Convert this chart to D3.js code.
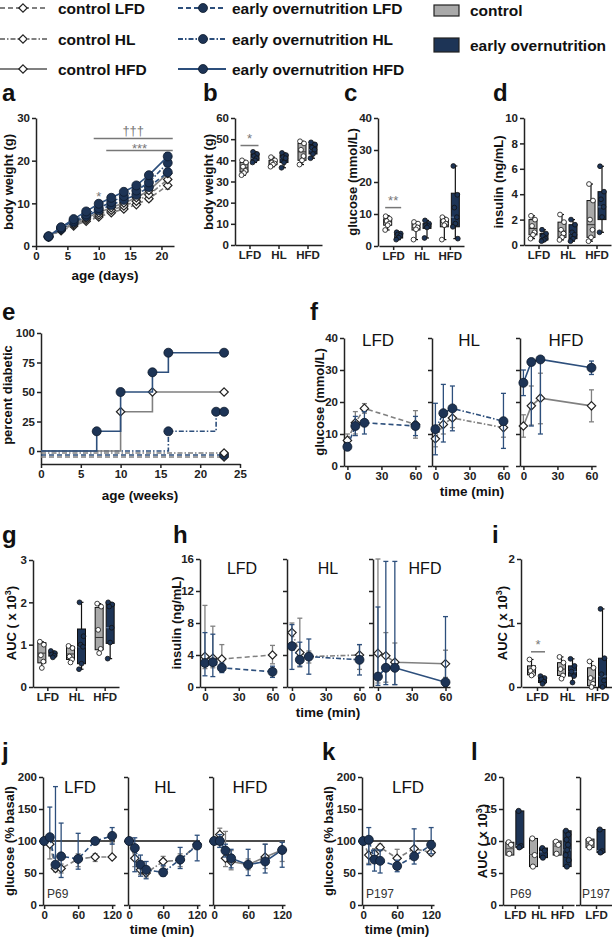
<!DOCTYPE html>
<html><head><meta charset="utf-8">
<script src="https://cdn.jsdelivr.net/npm/d3@7"></script>
<style>
body{margin:0;background:#fff;}
svg{display:block;font-family:"Liberation Sans",Arial,sans-serif;}
</style></head><body>
<script>
// ---------------- DATA ----------------
const diets = ["LFD","HL","HFD"];
// panel a: body weight by age (days)
const aDays = [2,4,6,8,10,12,14,16,18,21];
const aCtrlLFD = [2.1,3.6,4.7,5.8,6.8,7.8,8.7,9.7,11.1,14.2];
const aCtrlHL  = [2.1,3.8,5.0,6.2,7.3,8.4,9.4,10.5,12.0,15.6];
const aCtrlHFD = [2.2,3.9,5.3,6.6,7.8,9.0,10.1,11.3,13.0,17.0];
const aEoLFD   = [2.2,4.0,5.6,7.0,8.4,9.6,10.8,12.0,13.8,17.3];
const aEoHL    = [2.2,4.2,5.9,7.4,8.9,10.3,11.7,13.0,14.9,19.5];
const aEoHFD   = [2.3,4.4,6.3,8.1,9.9,11.3,12.7,14.2,16.6,21.0];
const aErr     = [0.1,0.2,0.3,0.3,0.4,0.4,0.5,0.5,0.6,0.9];
const aTicksX = [0,5,10,15,20], aTicksY = [0,10,20,30];
// box stats [min,q1,median,q3,max]
const bCtrl = [[33,34.5,36.5,39,40],[37,38,38.8,40,41.5],[38,40,44,48,49]];
const bEo   = [[39,40,41,43,44],[36.5,39,41,42.5,43.5],[41,43,45,47.5,48.5]];
const bCtrlPts = [[40,39,37,35,34,33],[41.5,40,39,38.5,38,37],[49,48,45,42,40,38]];
const bEoPts   = [[44,43,42,41,40,39],[43.5,42.5,41.5,41,39,36.5],[48.5,47.5,46,45,43,41]];
const cCtrl = [[5,6.5,7.5,8.5,9.5],[2,5,6,7,7.5],[2,6,7.5,8.2,9]];
const cEo   = [[2,2.5,3.2,3.8,4.3],[2.5,5.5,6.3,7,8],[2.3,6,9,16.5,25]];
const cCtrlPts = [[9.3,8.5,7.8,7,6.5,5],[7.5,7,6.2,5.8,5.2,2],[9,8.2,7.8,7,6.5,2]];
const cEoPts   = [[4.3,3.9,3.6,3.2,2.6,2],[8,7,6.5,6.2,5.8,2.5],[25,16,12,9,7,6,2.3]];
const dCtrl = [[0.5,0.8,1.3,2.0,2.3],[0.4,0.6,1.1,1.8,2.4],[0.3,0.6,1.6,3.5,4.8]];
const dEo   = [[0.3,0.4,0.6,0.9,1.2],[0.3,0.5,0.9,1.6,2.0],[1.0,2.0,3.0,4.2,6.2]];
const dCtrlPts = [[2.3,2.0,1.5,1.0,0.8,0.5],[2.4,1.8,1.2,0.9,0.6,0.4],[4.8,3.5,2.0,1.2,0.6,0.3]];
const dEoPts   = [[1.2,0.9,0.7,0.5,0.4,0.3],[2.0,1.6,1.0,0.8,0.5,0.3],[6.2,4.2,3.6,3.0,2.2,1.0]];
// panel e: percent diabetic
const eEoHFDWk = [0,7,10,14,16,23], eEoHFDPct = [0,16.7,50,66.7,83.3,83.3];
const eCtrlHFDWk = [0,10,14,23], eCtrlHFDPct = [0,33.3,50,50];
const eEoHLWk = [0,16,22,23], eEoHLPct = [0,16.7,33.3,33.3];
const eZeroWk = [0,23], eZeroPct = [0,0];
const eTicksX = [0,5,10,15,20,25], eTicksY = [0,25,50,75,100];
// panel f: glucose tolerance (mmol/L): mean, upper, lower
const fTimes = [0,7,15,60];
const fCtrlLFD = [8,13.5,18,13],      fCtrlLFDHi = [10,17,19.5,17.3],  fCtrlLFDLo = [6,10,16.5,8.7];
const fEoLFD   = [6,12.5,13.5,12.5],  fEoLFDHi   = [7,15.5,17,15.5],   fEoLFDLo   = [5,9.5,10,9.5];
const fCtrlHL  = [8.5,13,15,12],      fCtrlHLHi  = [11,16,18,15],      fCtrlHLLo  = [6,10,12,9];
const fEoHL    = [11.5,16.5,18,14],   fEoHLHi    = [19.6,25.5,25,22.7],fEoHLLo    = [3.5,7.5,11,5.5];
const fCtrlHFD = [12.5,18.8,21.2,18.8], fCtrlHFDHi = [16,25,29,23.8],  fCtrlHFDLo = [9,12.8,13.2,13.8];
const fEoHFD   = [26,32.5,33.3,30.7],   fEoHFDHi   = [30,32.5,33.3,32.8], fEoHFDLo = [22,12.5,10,28.6];
// panel g: AUC glucose
const gCtrl = [[0.45,0.57,0.8,1.05,1.07],[0.58,0.65,0.78,0.95,0.97],[0.78,0.88,1.17,1.88,1.97]];
const gEo   = [[0.7,0.73,0.77,0.82,0.85],[0.42,0.55,0.95,1.37,2.0],[0.67,1.03,1.4,1.97,2.0]];
const gCtrlPts = [[1.07,1.0,0.75,0.6,0.45],[0.97,0.92,0.72,0.65,0.58],[1.97,1.9,1.35,0.9,0.8]];
const gEoPts   = [[0.85,0.8,0.77,0.74,0.7],[2.0,1.2,1.0,0.95,0.55,0.42],[2.0,1.95,1.9,1.4,1.05,0.67]];
// panel h: insulin (ng/mL)
const hTimes = [0,7,15,60];
const hCtrlLFD = [3.8,3.6,3.5,4.0], hCtrlLFDHi = [10.2,7.6,5.3,5.2], hCtrlLFDLo = [2.3,2.4,2.5,2.9];
const hEoLFD   = [3.0,3.1,2.4,1.9], hEoLFDHi   = [6.8,6.6,3.0,2.6], hEoLFDLo   = [1.4,1.3,1.8,1.2];
const hCtrlHL  = [6.8,4.3,3.8,4.0], hCtrlHLHi  = [8.0,8.6,4.5,5.3], hCtrlHLLo  = [5.5,2.5,3.0,2.2];
const hEoHL    = [5.1,3.4,3.8,3.4], hEoHLHi    = [7.8,5.6,6.0,5.3], hEoHLLo    = [2.2,2.6,1.6,1.5];
const hCtrlHFD = [4.2,3.9,3.1,2.9], hCtrlHFDHi = [16,6.8,5.5,4.6],  hCtrlHFDLo = [0.5,0.6,0.3,1.2];
const hEoHFD   = [1.3,2.4,2.4,0.6], hEoHFDHi   = [10,15.7,15.7,8.8],hEoHFDLo   = [0.2,0.3,0.3,0.1];
// panel i: AUC insulin
const iCtrl = [[0.18,0.19,0.23,0.33,0.43],[0.13,0.18,0.28,0.38,0.47],[0,0.02,0.14,0.3,0.4]];
const iEo   = [[0.05,0.07,0.12,0.15,0.17],[0.07,0.17,0.24,0.33,0.44],[0,0,0.17,0.45,1.22]];
const iCtrlPts = [[0.43,0.3,0.25,0.2,0.18],[0.47,0.38,0.28,0.18,0.13],[0.4,0.3,0.14,0.05,0]];
const iEoPts   = [[0.17,0.14,0.12,0.08,0.05],[0.44,0.33,0.24,0.17,0.07],[1.22,0.45,0.2,0.1,0]];
// panel j: insulin tolerance P69 (% basal)
const jTimes = [0,10,20,30,60,90,120];
const jCtrlLFD = [100,95,57,57,72,75,75], jCtrlLFDHi=[100,100,66,64,80,80,97], jCtrlLFDLo=[100,72,52,50,60,68,75];
const jEoLFD   = [100,106,63,76,72,100,108], jEoLFDHi=[100,153,185,128,112,100,121], jEoLFDLo=[100,106,63,43,56,100,95];
const jCtrlHL  = [100,73,55,50,68,70,95], jCtrlHLHi=[100,85,62,58,76,80,100], jCtrlHLLo=[100,60,48,44,60,60,90];
const jEoHL    = [100,89,63,55,51,71,93], jEoHLHi=[100,105,78,68,62,90,109], jEoHLLo=[100,52,45,41,45,57,69];
const jCtrlHFD = [100,110,73,68,63,75,86], jCtrlHFDHi=[100,120,115,85,72,95,98], jCtrlHFDLo=[100,90,60,55,55,57,68];
const jEoHFD   = [100,100,85,73,63,68,86], jEoHFDHi=[100,110,95,87,87,95,98], jEoHFDLo=[100,90,75,58,46,50,59];
// panel k: insulin tolerance P197
const kCtrlLFD = [100,78,80,90,73,88,82], kCtrlLFDHi=[100,95,88,95,87,100,90], kCtrlLFDLo=[100,65,72,85,60,75,78];
const kEoLFD   = [100,102,71,69,61,76,94], kEoLFDHi=[100,121,86,86,70,119,121], kEoLFDLo=[100,63,53,50,52,64,80];
// panel l: AUC floating bars [min, median, max]
const lCtrl = [[7.8,8.8,9.8],[6.0,7.9,10.4],[7.8,9.2,10.0]];
const lEo   = [[9.0,9.3,14.7],[7.4,8.3,8.9],[6.0,8.6,11.6]];
const lCtrlPts = [[9.8,9.4,8.0],[10.4,7.8,6.0],[9.9,9.4,8.0]];
const lEoPts   = [[14.7,9.2,9.0],[8.9,8.5,7.4],[11.6,11,10.2,9.4,8.6,7.8,7,6]];
const l197Ctrl = [9.0,9.6,10.3], l197Eo = [8.2,8.5,11.8];
const l197CtrlPts = [10.2,9.7,9.0], l197EoPts = [11.8,8.4,8.2];

// ---------------- STYLE / HELPERS ----------------
const svg = d3.select('body').append('svg').attr('width',612).attr('height',937);
const DARK='#1d3456', DARKL='#2d4f7c', GREY='#808080', GREYF='#a9a9a9', AX='#222';
const DASH = {LFD:'5,3', HL:'5,2,1.5,2', HFD:null};
const FONT = '"Liberation Sans", Arial, sans-serif';
const fmtInt = d3.format('d');

function styleAxis(g){
  g.select('.domain').attr('stroke',AX).attr('stroke-width',1.5);
  g.selectAll('.tick line').attr('stroke',AX).attr('stroke-width',1.5);
  g.selectAll('.tick text').attr('fill','#222').attr('font-size',11.5).attr('font-weight','bold').attr('font-family',FONT);
}
function yAxis(y, x0, ticks, labels=true){
  const ax = d3.axisLeft(y).tickValues(ticks).tickSize(4).tickSizeOuter(0).tickPadding(2).tickFormat(labels?fmtInt:'');
  const g = svg.append('g').attr('transform',`translate(${x0},0)`).call(ax);
  styleAxis(g); return g;
}
function xAxis(x, y0, ticks, fmt){
  const ax = d3.axisBottom(x).tickValues(ticks).tickSize(4).tickSizeOuter(0).tickPadding(2).tickFormat(fmt||fmtInt);
  const g = svg.append('g').attr('transform',`translate(0,${y0})`).call(ax);
  styleAxis(g); return g;
}
function txt(x,y,s,o={}){
  return svg.append('text').attr('x',x).attr('y',y).text(s)
    .attr('font-size',o.size||13).attr('font-weight',o.bold===false?'normal':'bold')
    .attr('text-anchor',o.anchor||'start').attr('fill',o.fill||'#111').attr('font-family',FONT);
}
function vtitle(x,cy,s){
  return svg.append('text').attr('transform',`translate(${x},${cy}) rotate(-90)`)
    .attr('text-anchor','middle').attr('font-size',13).attr('font-weight','bold').attr('fill','#111')
    .attr('font-family',FONT).text(s);
}
function aucTitle(x,cy){
  const t = svg.append('text').attr('transform',`translate(${x},${cy}) rotate(-90)`)
    .attr('text-anchor','middle').attr('font-size',13).attr('font-weight','bold').attr('fill','#111').attr('font-family',FONT);
  t.append('tspan').text('AUC ( x 10');
  t.append('tspan').text('3').attr('font-size',9).attr('dy',-5);
  t.append('tspan').text(')').attr('dy',5);
}
function letter(x,y,s){ return txt(x,y,s,{size:24}); }
function marker(g,x,y,ctrl){
  if(ctrl) g.append('path').attr('d',`M${x},${y-4.2}L${x+4.2},${y}L${x},${y+4.2}L${x-4.2},${y}Z`)
      .attr('fill','#fff').attr('stroke','#222').attr('stroke-width',1.2);
  else g.append('circle').attr('cx',x).attr('cy',y).attr('r',4.5).attr('fill',DARK).attr('stroke','#0e1a2c').attr('stroke-width',0.8);
}
function series(x,y,times,vals,ctrl,dash,hi,lo){
  const col = ctrl?GREY:DARKL;
  const g = svg.append('g');
  const [y0] = y.domain();
  times.forEach((t,i)=>{
    const h=hi[i], l=Math.max(lo[i],y0);
    if(Math.abs(h-l)<0.001) return;
    const xx=x(t);
    g.append('line').attr('x1',xx).attr('x2',xx).attr('y1',y(h)).attr('y2',y(l)).attr('stroke',col).attr('stroke-width',1.3);
    [h,l].forEach(v=>{ if(Math.abs(v-vals[i])>0.001) g.append('line').attr('x1',xx-2.5).attr('x2',xx+2.5).attr('y1',y(v)).attr('y2',y(v)).attr('stroke',col).attr('stroke-width',1.3); });
  });
  g.append('path').datum(times.map((t,i)=>[t,vals[i]]))
    .attr('d',d3.line().x(d=>x(d[0])).y(d=>y(d[1])))
    .attr('fill','none').attr('stroke',col).attr('stroke-width',1.6).attr('stroke-dasharray',dash);
  times.forEach((t,i)=>marker(g,x(t),y(vals[i]),ctrl));
}
function seriesErr(x,y,times,vals,err,ctrl,dash){
  series(x,y,times,vals,ctrl,dash,vals.map((v,i)=>v+err[i]),vals.map((v,i)=>v-err[i]));
}
const JIT = [-2,2,-1,1.5,0,-2.5,2.5,-0.5];
function box(x,y,cx,st,pts,ctrl,w=8){
  const g = svg.append('g');
  g.append('line').attr('x1',cx).attr('x2',cx).attr('y1',y(st[0])).attr('y2',y(st[4])).attr('stroke','#111').attr('stroke-width',1.2);
  [st[0],st[4]].forEach(v=>g.append('line').attr('x1',cx-2).attr('x2',cx+2).attr('y1',y(v)).attr('y2',y(v)).attr('stroke','#111').attr('stroke-width',1.2));
  g.append('rect').attr('x',cx-w/2).attr('y',y(st[3])).attr('width',w).attr('height',Math.max(0.5,y(st[1])-y(st[3])))
    .attr('fill',ctrl?GREYF:DARK).attr('stroke','#111').attr('stroke-width',1);
  g.append('line').attr('x1',cx-w/2).attr('x2',cx+w/2).attr('y1',y(st[2])).attr('y2',y(st[2])).attr('stroke',ctrl?'#333':'#6d86a8').attr('stroke-width',1);
  pts.forEach((v,i)=>g.append('circle').attr('cx',cx+JIT[i%JIT.length]).attr('cy',y(v)).attr('r',2.4)
    .attr('fill',ctrl?'#fff':DARK).attr('stroke','#111').attr('stroke-width',0.8));
}
function bar(x,y,cx,st,pts,ctrl,w=8){
  const g = svg.append('g');
  g.append('rect').attr('x',cx-w/2).attr('y',y(st[2])).attr('width',w).attr('height',y(st[0])-y(st[2]))
    .attr('fill',ctrl?GREYF:DARK).attr('stroke','#111').attr('stroke-width',1);
  g.append('line').attr('x1',cx-w/2).attr('x2',cx+w/2).attr('y1',y(st[1])).attr('y2',y(st[1])).attr('stroke',ctrl?'#555':'#6d86a8').attr('stroke-width',1);
  pts.forEach((v,i)=>g.append('circle').attr('cx',cx+JIT[i%JIT.length]*0.6).attr('cy',y(v)).attr('r',2.6)
    .attr('fill',ctrl?'#fff':DARK).attr('stroke','#111').attr('stroke-width',0.8));
}
function boxPanel(L,R,y,ctrlS,eoS,ctrlP,eoP,cats=diets){
  const x = d3.scaleLinear().domain([-0.5,cats.length-0.5]).range([L,R]);
  xAxis(x, y.range()[0], d3.range(cats.length), i=>cats[i]);
  cats.forEach((c,i)=>{ box(x,y,x(i)-5.5,ctrlS[i],ctrlP[i],true); box(x,y,x(i)+5.5,eoS[i],eoP[i],false); });
  return x;
}
function sig(x1,x2,yl,ytxt,s){
  svg.append('line').attr('x1',x1).attr('x2',x2).attr('y1',yl).attr('y2',yl).attr('stroke','#777').attr('stroke-width',1.5);
  txt((x1+x2)/2,ytxt,s,{size:13,bold:false,anchor:'middle',fill:'#777'});
}

// ---------------- LEGEND ----------------
const legRows = [8,39,69];
const legKeys = [["control LFD","early overnutrition LFD",DASH.LFD],["control HL","early overnutrition HL",DASH.HL],["control HFD","early overnutrition HFD",DASH.HFD]];
legKeys.forEach((k,i)=>{
  const yy = legRows[i], g = svg.append('g');
  g.append('line').attr('x1',0).attr('x2',47).attr('y1',yy).attr('y2',yy).attr('stroke',GREY).attr('stroke-width',2).attr('stroke-dasharray',k[2]);
  marker(g,23,yy,true);
  txt(58,yy+5.5,k[0],{size:15.5});
  g.append('line').attr('x1',178).attr('x2',226).attr('y1',yy).attr('y2',yy).attr('stroke',DARKL).attr('stroke-width',2).attr('stroke-dasharray',k[2]);
  marker(g,203,yy,false);
  txt(232,yy+5.5,k[1],{size:15.5});
});
svg.append('rect').attr('x',434).attr('y',5).attr('width',25).attr('height',11).attr('fill',GREYF).attr('stroke','#222').attr('stroke-width',1.2);
txt(470,15.5,'control',{size:15.5});
svg.append('rect').attr('x',434).attr('y',38).attr('width',25).attr('height',14).attr('fill',DARK).attr('stroke','#222').attr('stroke-width',1.2);
txt(470,51,'early overnutrition',{size:15.5});

// ---------------- PANEL a ----------------
letter(2,101,'a');
{
  const x = d3.scaleLinear().domain([0,22]).range([36,174]);
  const y = d3.scaleLinear().domain([0,30]).range([246,118]);
  yAxis(y,36,aTicksY); xAxis(x,246,aTicksX);
  seriesErr(x,y,aDays,aCtrlLFD,aErr,true,DASH.LFD);
  seriesErr(x,y,aDays,aCtrlHL,aErr,true,DASH.HL);
  seriesErr(x,y,aDays,aCtrlHFD,aErr,true,DASH.HFD);
  seriesErr(x,y,aDays,aEoLFD,aErr,false,DASH.LFD);
  seriesErr(x,y,aDays,aEoHL,aErr,false,DASH.HL);
  seriesErr(x,y,aDays,aEoHFD,aErr,false,DASH.HFD);
  sig(x(9.2),x(21.8),y(25.2),y(26.5)+2,'†††');
  sig(x(11.2),x(21.8),y(22.4),y(22.4)+3,'***');
  txt(x(10),y(11.5)+4,'*',{size:13,bold:false,anchor:'middle',fill:'#777'});
  vtitle(13,182,'body weight (g)');
  txt(105,280,'age (days)',{anchor:'middle',size:13.5});
}
// ---------------- PANEL b ----------------
letter(203,101,'b');
{
  const y = d3.scaleLinear().domain([0,60]).range([245,118]);
  yAxis(y,235,[0,10,20,30,40,50,60]);
  const x = boxPanel(235,322,y,bCtrl,bEo,bCtrlPts,bEoPts);
  sig(x(0)-9,x(0)+9,y(47),y(47)-3,'*');
  vtitle(213,182,'body weight  (g)');
}
// ---------------- PANEL c ----------------
letter(344,101,'c');
{
  const y = d3.scaleLinear().domain([0,40]).range([246,118]);
  yAxis(y,378,[0,10,20,30,40]);
  const x = boxPanel(379,464,y,cCtrl,cEo,cCtrlPts,cEoPts);
  sig(x(0)-8,x(0)+8,y(12),y(12)-3,'**');
  vtitle(357,182,'glucose (mmol/L)');
}
// ---------------- PANEL d ----------------
letter(493,101,'d');
{
  const y = d3.scaleLinear().domain([0,10]).range([245,118]);
  yAxis(y,524,[0,2,4,6,8,10]);
  boxPanel(524,611,y,dCtrl,dEo,dCtrlPts,dEoPts);
  vtitle(503,182,'insulin (ng/mL)');
}
// ---------------- PANEL e ----------------
letter(2,320,'e');
{
  const x = d3.scaleLinear().domain([0,25]).range([41,240]);
  const y = d3.scaleLinear().domain([-11,100]).range([464,333]);
  yAxis(y,41,eTicksY); xAxis(x,464,eTicksX);
  const step = d3.line().curve(d3.curveStepAfter).x(d=>x(d[0])).y(d=>d[1]);
  function eLine(wk,pct,ctrl,dash,off){
    const g=svg.append('g');
    g.append('path').datum(wk.map((w,i)=>[w,y(pct[i])+off])).attr('d',step)
      .attr('fill','none').attr('stroke',ctrl?GREY:DARKL).attr('stroke-width',1.6).attr('stroke-dasharray',dash);
    wk.forEach((w,i)=>{ if(i>0) marker(g,x(w),y(pct[i])+off,ctrl); });
  }
  eLine(eZeroWk,eZeroPct,true,DASH.LFD,6);
  eLine(eZeroWk,eZeroPct,false,DASH.LFD,4);
  eLine(eZeroWk,eZeroPct,true,DASH.HL,2);
  eLine(eEoHLWk,eEoHLPct,false,DASH.HL,0);
  eLine(eCtrlHFDWk,eCtrlHFDPct,true,DASH.HFD,0);
  eLine(eEoHFDWk,eEoHFDPct,false,DASH.HFD,0);
  vtitle(12,395,'percent diabetic');
  txt(140,500,'age (weeks)',{anchor:'middle',size:13.5});
}
// ---------------- PANEL f ----------------
letter(310,320,'f');
{
  const y = d3.scaleLinear().domain([0,40]).range([466,338]);
  const lefts = [344,432,520];
  const data = [[fCtrlLFD,fCtrlLFDHi,fCtrlLFDLo,fEoLFD,fEoLFDHi,fEoLFDLo],[fCtrlHL,fCtrlHLHi,fCtrlHLLo,fEoHL,fEoHLHi,fEoHLLo],[fCtrlHFD,fCtrlHFDHi,fCtrlHFDLo,fEoHFD,fEoHFDHi,fEoHFDLo]];
  diets.forEach((dt,i)=>{
    const L = lefts[i];
    const x = d3.scaleLinear().domain([-3,64]).range([L,L+76]);
    yAxis(y,L,[0,10,20,30,40],i===0); xAxis(x,466,[0,30,60]);
    series(x,y,fTimes,data[i][0],true,DASH[dt],data[i][1],data[i][2]);
    series(x,y,fTimes,data[i][3],false,DASH[dt],data[i][4],data[i][5]);
    txt(L+[34,37,46][i],346,dt,{size:17,bold:false,anchor:'middle'});
  });
  vtitle(324,402,'glucose (mmol/L)');
  txt(472,496,'time (min)',{anchor:'middle',size:13.5});
}
// ---------------- PANEL g ----------------
letter(2,543,'g');
{
  const y = d3.scaleLinear().domain([0,3]).range([687,560]);
  yAxis(y,33,[0,1,2,3]);
  boxPanel(33,119,y,gCtrl,gEo,gCtrlPts,gEoPts);
  aucTitle(16,623);
}
// ---------------- PANEL h ----------------
letter(173,543,'h');
{
  const y = d3.scaleLinear().domain([0,16]).range([687,559]);
  const lefts = [200,287,373];
  const data = [[hCtrlLFD,hCtrlLFDHi,hCtrlLFDLo,hEoLFD,hEoLFDHi,hEoLFDLo],[hCtrlHL,hCtrlHLHi,hCtrlHLLo,hEoHL,hEoHLHi,hEoHLLo],[hCtrlHFD,hCtrlHFDHi,hCtrlHFDLo,hEoHFD,hEoHFDHi,hEoHFDLo]];
  diets.forEach((dt,i)=>{
    const L = lefts[i];
    const x = d3.scaleLinear().domain([-4.4,64]).range([L,L+77]);
    yAxis(y,L,[0,4,8,12,16],i===0); xAxis(x,687,[0,30,60]);
    series(x,y,hTimes,data[i][0],true,DASH[dt],data[i][1],data[i][2]);
    series(x,y,hTimes,data[i][3],false,DASH[dt],data[i][4],data[i][5]);
    txt(L+[42,41,52][i],574,dt,{size:16,bold:false,anchor:'middle'});
  });
  vtitle(181,623,'insulin (ng/mL)');
  txt(328,717,'time (min)',{anchor:'middle',size:13.5});
}
// ---------------- PANEL i ----------------
letter(492,543,'i');
{
  const y = d3.scaleLinear().domain([0,2]).range([687,559]);
  yAxis(y,521,[0,1,2]);
  const x = boxPanel(522,612,y,iCtrl,iEo,iCtrlPts,iEoPts);
  sig(x(0)-6,x(0)+8,y(0.55),y(0.55)-3,'*');
  aucTitle(507,623);
}
// ---------------- PANEL j ----------------
letter(2,760,'j');
{
  const y = d3.scaleLinear().domain([0,200]).range([905,777]);
  const lefts = [43,128,213];
  const data = [[jCtrlLFD,jCtrlLFDHi,jCtrlLFDLo,jEoLFD,jEoLFDHi,jEoLFDLo],[jCtrlHL,jCtrlHLHi,jCtrlHLLo,jEoHL,jEoHLHi,jEoHLLo],[jCtrlHFD,jCtrlHFDHi,jCtrlHFDLo,jEoHFD,jEoHFDHi,jEoHFDLo]];
  diets.forEach((dt,i)=>{
    const L = lefts[i];
    const x = d3.scaleLinear().domain([-2,125]).range([L,L+72]);
    yAxis(y,L,[0,50,100,150,200],i===0); xAxis(x,905,[0,60,120]);
    svg.append('line').attr('x1',x(-2)).attr('x2',x(125)).attr('y1',y(100)).attr('y2',y(100)).attr('stroke','#111').attr('stroke-width',1.3);
    series(x,y,jTimes,data[i][0],true,DASH[dt],data[i][1],data[i][2]);
    series(x,y,jTimes,data[i][3],false,DASH[dt],data[i][4],data[i][5]);
    txt(L+37,793,dt,{size:17,bold:false,anchor:'middle'});
  });
  txt(47,898,'P69',{size:12,bold:false,fill:'#333'});
  vtitle(14,841,'glucose (% basal)');
  txt(162,934,'time (min)',{anchor:'middle',size:13.5});
}
// ---------------- PANEL k ----------------
letter(322,760,'k');
{
  const y = d3.scaleLinear().domain([0,200]).range([905,777]);
  const x = d3.scaleLinear().domain([-2,125]).range([362,434]);
  yAxis(y,362,[0,50,100,150,200]); xAxis(x,905,[0,60,120]);
  svg.append('line').attr('x1',x(-2)).attr('x2',x(125)).attr('y1',y(100)).attr('y2',y(100)).attr('stroke','#111').attr('stroke-width',1.3);
  series(x,y,jTimes,kCtrlLFD,true,DASH.LFD,kCtrlLFDHi,kCtrlLFDLo);
  series(x,y,jTimes,kEoLFD,false,DASH.LFD,kEoLFDHi,kEoLFDLo);
  txt(408,793,'LFD',{size:17,bold:false,anchor:'middle'});
  txt(366,898,'P197',{size:12,bold:false,fill:'#333'});
  vtitle(333,841,'glucose (% basal)');
  txt(397,934,'time (min)',{anchor:'middle',size:13.5});
}
// ---------------- PANEL l ----------------
letter(471,760,'l');
{
  const y = d3.scaleLinear().domain([0,20]).range([905,777]);
  yAxis(y,503,[0,5,10,15,20]);
  const x = d3.scaleLinear().domain([-0.5,2.5]).range([503,574]);
  xAxis(x,905,[0,1,2],i=>diets[i]);
  diets.forEach((d,i)=>{ bar(x,y,x(i)-5,lCtrl[i],lCtrlPts[i],true); bar(x,y,x(i)+5,lEo[i],lEoPts[i],false); });
  yAxis(y,580,[0,5,10,15,20],false);
  const x2 = d3.scaleLinear().domain([-0.5,0.5]).range([580,612]);
  xAxis(x2,905,[0],()=> 'LFD');
  bar(x2,y,x2(0)-6,l197Ctrl,l197CtrlPts,true); bar(x2,y,x2(0)+5,l197Eo,l197EoPts,false);
  txt(510,898,'P69',{size:12,bold:false,fill:'#333'});
  txt(582,898,'P197',{size:12,bold:false,fill:'#333'});
  aucTitle(487,841);
}
</script></body></html>
